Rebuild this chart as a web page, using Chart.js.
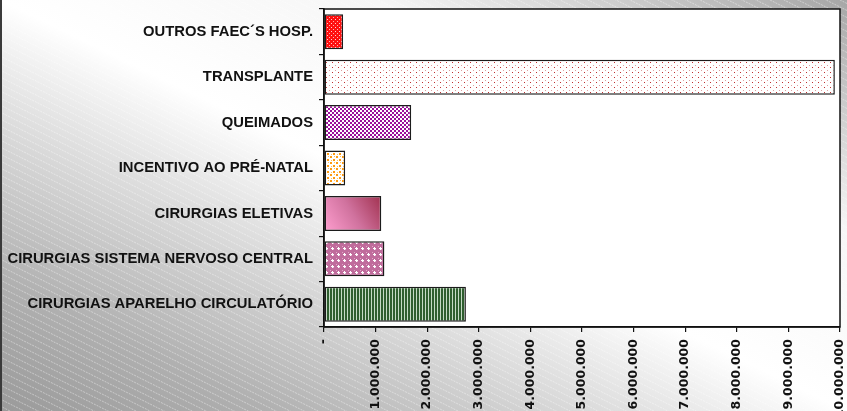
<!DOCTYPE html>
<html>
<head>
<meta charset="utf-8">
<script src="https://cdn.jsdelivr.net/npm/chart.js@4"></script>
<style>
  html, body { margin: 0; padding: 0; background: #fff; }
  canvas { display: block; }
</style>
</head>
<body>
<canvas id="chart" width="847" height="411"></canvas>
<script>
// categories, top to bottom
const categories = [
  'OUTROS FAEC´S HOSP.',
  'TRANSPLANTE',
  'QUEIMADOS',
  'INCENTIVO AO PRÉ-NATAL',
  'CIRURGIAS ELETIVAS',
  'CIRURGIAS SISTEMA NERVOSO CENTRAL',
  'CIRURGIAS APARELHO CIRCULATÓRIO'
];
const values = [370000, 9900000, 1690000, 410000, 1110000, 1170000, 2750000];
const xMin = 0;
const xMax = 10000000;
const xStep = 1000000;

function fmt(v) {
  if (v === 0) return '-';
  return String(v).replace(/\B(?=(\d{3})+(?!\d))/g, '.');
}

// small tile patterns for the bars
function tile(w, h, draw) {
  const c = document.createElement('canvas');
  c.width = w; c.height = h;
  draw(c.getContext('2d'));
  return c.getContext('2d').createPattern(c, 'repeat');
}

const ctx = document.getElementById('chart').getContext('2d');

const redDots = tile(4, 4, g => {
  g.fillStyle = '#ff1010'; g.fillRect(0, 0, 4, 4);
  g.fillStyle = '#ffb0b0'; g.fillRect(1, 1, 1, 1);
  g.fillStyle = '#ffd0d0'; g.fillRect(3, 3, 1, 1);
});
const sparseDots = tile(6, 5, g => {
  g.fillStyle = '#ffffff'; g.fillRect(0, 0, 6, 5);
  g.fillStyle = '#c03030'; g.fillRect(2, 2, 1, 1);
  g.fillStyle = '#e0a0a0'; g.fillRect(5, 0, 1, 1);
});
const checker = tile(4, 4, g => {
  g.fillStyle = '#ffffff'; g.fillRect(0, 0, 4, 4);
  g.fillStyle = '#9a109a'; g.fillRect(0, 0, 2, 2); g.fillRect(2, 2, 2, 2);
});
const orangeDots = tile(6, 6, g => {
  g.fillStyle = '#ffffff'; g.fillRect(0, 0, 6, 6);
  g.fillStyle = '#ff9a10'; g.fillRect(0, 0, 2, 2); g.fillRect(3, 3, 2, 2);
  g.fillStyle = '#ffc060'; g.fillRect(4, 0, 1, 1); g.fillRect(1, 4, 1, 1);
});
const plusPattern = tile(6, 6, g => {
  g.fillStyle = '#c06c9c'; g.fillRect(0, 0, 6, 6);
  g.fillStyle = '#e0a8c8'; g.fillRect(0, 0, 1, 1); g.fillRect(3, 3, 1, 1);
  g.fillStyle = '#ffffff'; g.fillRect(2, 1, 1, 3); g.fillRect(1, 2, 3, 1);
});
const greenStripes = tile(3, 2, g => {
  g.fillStyle = '#2e5e2e'; g.fillRect(0, 0, 2, 2);
  g.fillStyle = '#c4dac4'; g.fillRect(2, 0, 1, 2);
});

function pinkGradient(context) {
  const chart = context.chart;
  if (!chart.chartArea) return '#e07aa8';
  const xs = chart.scales.x, ys = chart.scales.y;
  const x0 = xs.getPixelForValue(0);
  const x1 = xs.getPixelForValue(values[context.dataIndex]);
  const yc = ys.getPixelForValue(context.dataIndex);
  const g = chart.ctx.createLinearGradient(x0, yc + 18, x1, yc - 18);
  g.addColorStop(0, '#ff9fd0');
  g.addColorStop(0.5, '#d0729e');
  g.addColorStop(1, '#a0304e');
  return g;
}

const fills = [redDots, sparseDots, checker, orangeDots, null, plusPattern, greenStripes];

const backgroundPlugin = {
  id: 'backgroundPlugin',
  beforeDraw(chart) {
    const c = chart.ctx;
    const W = chart.width, H = chart.height;
    c.save();
    // gradient across the diagonal: grey at bottom-left and top-right corners
    const ux = 0.437, uy = -0.9, d = 370;
    const cx = W / 2, cy = H / 2;
    const g = c.createLinearGradient(cx - ux * d, cy - uy * d, cx + ux * d, cy + uy * d);
    g.addColorStop(0, '#9a9a9a');
    g.addColorStop(0.16, '#b0b0b0');
    g.addColorStop(0.38, '#e2e2e2');
    g.addColorStop(0.5, '#ffffff');
    g.addColorStop(0.72, '#f6f6f6');
    g.addColorStop(0.88, '#c8c8c8');
    g.addColorStop(1, '#a6a6a6');
    c.fillStyle = g;
    c.fillRect(0, 0, W, H);
    // faint diagonal stripes
    c.strokeStyle = 'rgba(255,255,255,0.4)';
    c.lineWidth = 1;
    c.setLineDash([2, 1]);
    for (let y0 = -W; y0 < H + 10; y0 += 7) {
      c.beginPath();
      c.moveTo(0, y0);
      c.lineTo(W, y0 + W * 0.5);
      c.stroke();
    }
    c.setLineDash([]);
    c.fillStyle = '#3a3a3a';
    c.fillRect(0, 0, 2, H);
    const a = chart.chartArea;
    c.fillStyle = '#ffffff';
    c.fillRect(a.left, a.top, a.right - a.left, a.bottom - a.top);
    c.restore();
  },
  afterDatasetsDraw(chart) {
    const c = chart.ctx;
    const a = chart.chartArea;
    c.save();
    c.strokeStyle = '#111';
    c.lineWidth = 1.5;
    c.strokeRect(a.left, a.top, a.right - a.left, a.bottom - a.top);
    c.restore();
  }
};

new Chart(ctx, {
  type: 'bar',
  data: {
    labels: categories,
    datasets: [{
      data: values,
      backgroundColor: (context) => fills[context.dataIndex] || pinkGradient(context),
      borderColor: '#1c1c1c',
      borderWidth: 1.5,
      borderSkipped: false,
      barPercentage: 0.77,
      categoryPercentage: 1
    }]
  },
  options: {
    indexAxis: 'y',
    responsive: false,
    animation: false,
    layout: { padding: { top: 9, right: 7, left: 0, bottom: 0 } },
    plugins: {
      legend: { display: false },
      tooltip: { enabled: false }
    },
    scales: {
      x: {
        min: xMin,
        max: xMax,
        ticks: {
          stepSize: xStep,
          autoSkip: false,
          maxRotation: 90,
          minRotation: 90,
          padding: 7,
          color: '#111',
          font: { family: "'DejaVu Sans'", weight: 'bold', size: 12.5 },
          callback: (v) => fmt(v)
        },
        grid: { drawOnChartArea: false, tickLength: 5, color: '#111', lineWidth: 1.2 },
        border: { display: true, color: '#111', width: 1.5 },
        afterFit(scale) {
          scale.height = 84;
          scale.paddingLeft = 0;
          scale.paddingRight = 0;
        }
      },
      y: {
        ticks: {
          padding: 6,
          color: '#111',
          font: { family: "'Liberation Sans'", weight: 'bold', size: 14.8 }
        },
        grid: { drawOnChartArea: false, offset: true, tickLength: 5, color: '#111', lineWidth: 1.2 },
        border: { display: true, color: '#111', width: 1.5 },
        afterFit(scale) {
          scale.width = 324;
          scale.paddingTop = 0;
          scale.paddingBottom = 0;
        }
      }
    }
  },
  plugins: [backgroundPlugin]
});
</script>
</body>
</html>
